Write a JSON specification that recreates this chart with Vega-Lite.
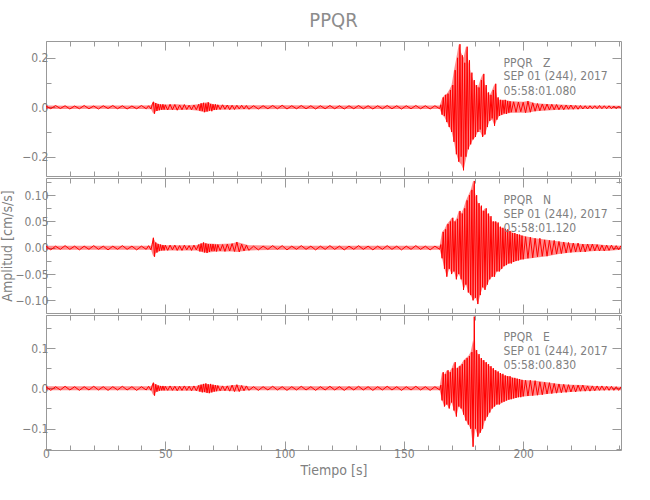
{
"$schema": "https://vega.github.io/schema/vega-lite/v6.json",
"padding": {"left": 0, "top": 10, "right": 5, "bottom": 5},
"spacing": 0,
"datasets": {
"z": [
{"t":0,"v":0.005},{"t":2,"v":-0.006},{"t":4,"v":0.007},{"t":6,"v":-0.005},{"t":8,"v":0.006},{"t":10,"v":-0.007},{"t":12,"v":0.005},{"t":14,"v":-0.006},{"t":16,"v":0.007},{"t":18,"v":-0.006},{"t":20,"v":0.005},{"t":22,"v":-0.007},{"t":24,"v":0.006},{"t":26,"v":-0.005},{"t":28,"v":0.007},{"t":30,"v":-0.006},{"t":32,"v":0.006},{"t":34,"v":-0.007},{"t":36,"v":0.005},{"t":38,"v":-0.006},{"t":40,"v":0.007},{"t":42,"v":-0.006},{"t":43,"v":0.006},{"t":44,"v":-0.007},
{"t":44.5,"v":0.01},{"t":45,"v":0.022},{"t":45.5,"v":-0.026},{"t":46,"v":0.017},{"t":46.5,"v":-0.015},{"t":47,"v":0.013},{"t":47.5,"v":-0.012},{"t":48,"v":0.011},{"t":48.5,"v":-0.01},{"t":49,"v":0.012},{"t":49.5,"v":-0.009},{"t":50,"v":0.01},
{"t":51,"v":-0.011},{"t":52,"v":0.012},{"t":53,"v":-0.01},{"t":54,"v":0.011},{"t":55,"v":-0.012},{"t":56,"v":0.009},{"t":57,"v":-0.01},{"t":58,"v":0.011},{"t":59,"v":-0.009},{"t":60,"v":0.008},{"t":61,"v":-0.01},{"t":62,"v":0.009},{"t":63,"v":-0.01},
{"t":64,"v":0.012},{"t":64.5,"v":-0.014},{"t":65,"v":0.016},{"t":65.5,"v":-0.015},{"t":66,"v":0.018},{"t":66.5,"v":-0.02},{"t":67,"v":0.015},{"t":67.5,"v":-0.017},{"t":68,"v":0.02},{"t":68.5,"v":-0.014},{"t":69,"v":0.013},{"t":69.5,"v":-0.016},{"t":70,"v":0.012},{"t":70.5,"v":-0.011},{"t":71,"v":0.012},{"t":71.5,"v":-0.01},{"t":72,"v":0.01},
{"t":73,"v":-0.009},{"t":74,"v":0.01},{"t":75,"v":-0.008},{"t":76,"v":0.009},{"t":77,"v":-0.01},{"t":78,"v":0.008},{"t":79,"v":-0.009},{"t":80,"v":0.008},{"t":81,"v":-0.007},{"t":82,"v":0.008},{"t":83,"v":-0.007},{"t":84,"v":0.007},{"t":85,"v":-0.008},
{"t":87,"v":0.006},{"t":89,"v":-0.007},{"t":91,"v":0.006},{"t":93,"v":-0.006},{"t":95,"v":0.007},{"t":97,"v":-0.006},{"t":99,"v":0.008},{"t":101,"v":-0.007},{"t":103,"v":0.006},{"t":105,"v":-0.006},{"t":107,"v":0.007},{"t":109,"v":-0.006},{"t":111,"v":0.006},{"t":113,"v":-0.007},{"t":115,"v":0.006},{"t":117,"v":-0.006},{"t":119,"v":0.007},{"t":121,"v":-0.006},{"t":123,"v":0.006},{"t":125,"v":-0.007},{"t":127,"v":0.006},{"t":129,"v":-0.006},{"t":131,"v":0.007},{"t":133,"v":-0.006},{"t":135,"v":0.006},{"t":137,"v":-0.007},{"t":139,"v":0.006},{"t":141,"v":-0.006},{"t":143,"v":0.007},{"t":145,"v":-0.006},{"t":147,"v":0.006},{"t":149,"v":-0.007},{"t":151,"v":0.006},{"t":153,"v":-0.006},{"t":155,"v":0.007},{"t":157,"v":-0.006},{"t":159,"v":0.006},{"t":161,"v":-0.007},{"t":163,"v":0.006},{"t":165,"v":-0.006},
{"t":165.5,"v":0.01},{"t":166,"v":-0.03},{"t":166.5,"v":0.04},{"t":167,"v":-0.035},{"t":167.5,"v":0.05},{"t":168,"v":-0.06},{"t":168.5,"v":0.055},{"t":169,"v":-0.08},{"t":169.5,"v":0.07},{"t":170,"v":-0.1},{"t":170.5,"v":0.09},{"t":171,"v":-0.14},{"t":171.5,"v":0.15},{"t":172,"v":-0.19},{"t":172.5,"v":0.2},{"t":173,"v":-0.22},{"t":173.5,"v":0.255},{"t":174,"v":-0.2},{"t":174.5,"v":0.21},{"t":175,"v":-0.255},{"t":175.5,"v":0.18},{"t":176,"v":-0.2},{"t":176.5,"v":0.245},{"t":177,"v":-0.17},{"t":177.5,"v":0.19},{"t":178,"v":-0.15},{"t":178.5,"v":0.14},{"t":179,"v":-0.13},{"t":179.5,"v":0.11},{"t":180,"v":-0.12},{"t":180.5,"v":0.09},{"t":181,"v":-0.1},{"t":181.5,"v":0.08},{"t":182,"v":-0.09},{"t":182.5,"v":0.11},{"t":183,"v":-0.12},{"t":183.5,"v":0.135},{"t":184,"v":-0.11},{"t":184.5,"v":0.09},{"t":185,"v":-0.08},{"t":185.5,"v":0.06},{"t":186,"v":-0.055},{"t":186.5,"v":0.05},{"t":187,"v":-0.045},{"t":187.5,"v":0.07},{"t":188,"v":-0.075},{"t":188.5,"v":0.095},{"t":189,"v":-0.05},{"t":189.5,"v":0.04},{"t":190,"v":-0.035},{"t":190.5,"v":0.03},{"t":191,"v":-0.03},{"t":191.5,"v":0.028},{"t":192,"v":-0.025},{"t":192.5,"v":0.03},{"t":193,"v":-0.027},{"t":193.5,"v":0.025},{"t":194,"v":-0.022},{"t":194.5,"v":0.024},{"t":195,"v":-0.02},
{"t":196,"v":0.022},{"t":197,"v":-0.02},{"t":198,"v":0.021},{"t":199,"v":-0.018},{"t":200,"v":0.02},{"t":201,"v":-0.022},{"t":202,"v":0.025},{"t":203,"v":-0.02},{"t":204,"v":0.018},{"t":205,"v":-0.016},{"t":206,"v":0.015},{"t":207,"v":-0.014},{"t":208,"v":0.013},{"t":209,"v":-0.012},{"t":210,"v":0.013},{"t":211,"v":-0.011},{"t":212,"v":0.012},{"t":213,"v":-0.01},{"t":214,"v":0.011},{"t":215,"v":-0.01},{"t":216,"v":0.009},{"t":217,"v":-0.01},{"t":218,"v":0.009},{"t":219,"v":-0.008},{"t":220,"v":0.009},{"t":221,"v":-0.008},{"t":222,"v":0.007},{"t":223,"v":-0.008},{"t":224,"v":0.007},{"t":225,"v":-0.007},{"t":226,"v":0.006},{"t":227,"v":-0.007},{"t":228,"v":0.006},{"t":229,"v":-0.006},{"t":230,"v":0.006},{"t":231,"v":-0.006},{"t":232,"v":0.007},{"t":233,"v":-0.006},{"t":234,"v":0.006},{"t":235,"v":-0.006},{"t":236,"v":0.006},{"t":237,"v":-0.006},{"t":238,"v":0.005},{"t":239,"v":-0.006},{"t":240,"v":0.005},{"t":241,"v":-0.005}
],
"n": [
{"t":0,"v":0.003},{"t":2,"v":-0.004},{"t":4,"v":0.003},{"t":6,"v":-0.003},{"t":8,"v":0.004},{"t":10,"v":-0.003},{"t":12,"v":0.003},{"t":14,"v":-0.004},{"t":16,"v":0.003},{"t":18,"v":-0.003},{"t":20,"v":0.004},{"t":22,"v":-0.003},{"t":24,"v":0.003},{"t":26,"v":-0.004},{"t":28,"v":0.003},{"t":30,"v":-0.003},{"t":32,"v":0.004},{"t":34,"v":-0.003},{"t":36,"v":0.003},{"t":38,"v":-0.004},{"t":40,"v":0.003},{"t":42,"v":-0.003},{"t":43,"v":0.004},{"t":44,"v":-0.004},
{"t":44.5,"v":0.006},{"t":45,"v":0.019},{"t":45.5,"v":-0.017},{"t":46,"v":0.01},{"t":46.5,"v":-0.009},{"t":47,"v":0.007},{"t":47.5,"v":-0.006},{"t":48,"v":0.006},{"t":48.5,"v":-0.005},{"t":49,"v":0.005},{"t":49.5,"v":-0.005},{"t":50,"v":0.005},
{"t":51,"v":-0.005},{"t":52,"v":0.005},{"t":53,"v":-0.004},{"t":54,"v":0.005},{"t":55,"v":-0.005},{"t":56,"v":0.004},{"t":57,"v":-0.005},{"t":58,"v":0.005},{"t":59,"v":-0.004},{"t":60,"v":0.004},{"t":61,"v":-0.005},{"t":62,"v":0.005},{"t":63,"v":-0.004},
{"t":64,"v":0.006},{"t":64.5,"v":-0.007},{"t":65,"v":0.008},{"t":65.5,"v":-0.007},{"t":66,"v":0.01},{"t":66.5,"v":-0.009},{"t":67,"v":0.008},{"t":67.5,"v":-0.01},{"t":68,"v":0.007},{"t":68.5,"v":-0.008},{"t":69,"v":0.007},{"t":69.5,"v":-0.006},{"t":70,"v":0.007},{"t":70.5,"v":-0.006},{"t":71,"v":0.006},{"t":71.5,"v":-0.007},{"t":72,"v":0.006},
{"t":73,"v":-0.006},{"t":74,"v":0.006},{"t":75,"v":-0.007},{"t":76,"v":0.007},{"t":77,"v":-0.006},{"t":78,"v":0.008},{"t":79,"v":-0.007},{"t":80,"v":0.011},{"t":81,"v":-0.008},{"t":82,"v":0.007},{"t":83,"v":-0.006},{"t":84,"v":0.005},{"t":85,"v":-0.005},
{"t":87,"v":0.003},{"t":89,"v":-0.004},{"t":91,"v":0.003},{"t":93,"v":-0.003},{"t":95,"v":0.004},{"t":97,"v":-0.003},{"t":99,"v":0.004},{"t":101,"v":-0.004},{"t":103,"v":0.003},{"t":105,"v":-0.003},{"t":107,"v":0.004},{"t":109,"v":-0.003},{"t":111,"v":0.003},{"t":113,"v":-0.004},{"t":115,"v":0.003},{"t":117,"v":-0.003},{"t":119,"v":0.004},{"t":121,"v":-0.003},{"t":123,"v":0.003},{"t":125,"v":-0.004},{"t":127,"v":0.003},{"t":129,"v":-0.003},{"t":131,"v":0.004},{"t":133,"v":-0.003},{"t":135,"v":0.003},{"t":137,"v":-0.004},{"t":139,"v":0.003},{"t":141,"v":-0.003},{"t":143,"v":0.004},{"t":145,"v":-0.003},{"t":147,"v":0.003},{"t":149,"v":-0.004},{"t":151,"v":0.003},{"t":153,"v":-0.003},{"t":155,"v":0.004},{"t":157,"v":-0.003},{"t":159,"v":0.003},{"t":161,"v":-0.004},{"t":163,"v":0.003},{"t":165,"v":-0.003},
{"t":165.5,"v":0.006},{"t":166,"v":-0.02},{"t":166.5,"v":0.03},{"t":167,"v":-0.04},{"t":167.5,"v":0.035},{"t":168,"v":-0.055},{"t":168.5,"v":0.045},{"t":169,"v":-0.04},{"t":169.5,"v":0.05},{"t":170,"v":-0.05},{"t":170.5,"v":0.057},{"t":171,"v":-0.045},{"t":171.5,"v":0.05},{"t":172,"v":-0.06},{"t":172.5,"v":0.055},{"t":173,"v":-0.05},{"t":173.5,"v":0.07},{"t":174,"v":-0.06},{"t":174.5,"v":0.065},{"t":175,"v":-0.08},{"t":175.5,"v":0.075},{"t":176,"v":-0.07},{"t":176.5,"v":0.09},{"t":177,"v":-0.085},{"t":177.5,"v":0.1},{"t":178,"v":-0.09},{"t":178.5,"v":0.11},{"t":179,"v":-0.1},{"t":179.5,"v":0.127},{"t":180,"v":-0.095},{"t":180.5,"v":0.1},{"t":181,"v":-0.107},{"t":181.5,"v":0.085},{"t":182,"v":-0.09},{"t":182.5,"v":0.08},{"t":183,"v":-0.075},{"t":183.5,"v":0.07},{"t":184,"v":-0.08},{"t":184.5,"v":0.075},{"t":185,"v":-0.07},{"t":185.5,"v":0.065},{"t":186,"v":-0.06},{"t":186.5,"v":0.06},{"t":187,"v":-0.055},{"t":187.5,"v":0.05},{"t":188,"v":-0.055},{"t":188.5,"v":0.05},{"t":189,"v":-0.045},{"t":189.5,"v":0.048},{"t":190,"v":-0.045},{"t":190.5,"v":0.04},{"t":191,"v":-0.04},{"t":191.5,"v":0.038},{"t":192,"v":-0.035},{"t":192.5,"v":0.036},{"t":193,"v":-0.033},{"t":193.5,"v":0.035},{"t":194,"v":-0.03},{"t":194.5,"v":0.032},{"t":195,"v":-0.03},{"t":195.5,"v":0.028},{"t":196,"v":-0.027},{"t":196.5,"v":0.028},{"t":197,"v":-0.025},{"t":197.5,"v":0.026},{"t":198,"v":-0.024},{"t":198.5,"v":0.025},{"t":199,"v":-0.022},{"t":199.5,"v":0.023},{"t":200,"v":-0.022},
{"t":201,"v":0.021},{"t":202,"v":-0.02},{"t":203,"v":0.02},{"t":204,"v":-0.019},{"t":205,"v":0.018},{"t":206,"v":-0.017},{"t":207,"v":0.018},{"t":208,"v":-0.016},{"t":209,"v":0.015},{"t":210,"v":-0.016},{"t":211,"v":0.014},{"t":212,"v":-0.013},{"t":213,"v":0.014},{"t":214,"v":-0.012},{"t":215,"v":0.012},{"t":216,"v":-0.011},{"t":217,"v":0.011},{"t":218,"v":-0.01},{"t":219,"v":0.01},{"t":220,"v":-0.009},{"t":221,"v":0.009},{"t":222,"v":-0.008},{"t":223,"v":0.009},{"t":224,"v":-0.008},{"t":225,"v":0.007},{"t":226,"v":-0.008},{"t":227,"v":0.007},{"t":228,"v":-0.006},{"t":229,"v":0.007},{"t":230,"v":-0.006},{"t":231,"v":0.006},{"t":232,"v":-0.006},{"t":233,"v":0.005},{"t":234,"v":-0.006},{"t":235,"v":0.005},{"t":236,"v":-0.005},{"t":237,"v":0.005},{"t":238,"v":-0.004},{"t":239,"v":0.004},{"t":240,"v":-0.004},{"t":241,"v":0.004}
],
"e": [
{"t":0,"v":0.004},{"t":2,"v":-0.005},{"t":4,"v":0.004},{"t":6,"v":-0.004},{"t":8,"v":0.005},{"t":10,"v":-0.004},{"t":12,"v":0.004},{"t":14,"v":-0.005},{"t":16,"v":0.004},{"t":18,"v":-0.004},{"t":20,"v":0.005},{"t":22,"v":-0.004},{"t":24,"v":0.004},{"t":26,"v":-0.005},{"t":28,"v":0.004},{"t":30,"v":-0.004},{"t":32,"v":0.005},{"t":34,"v":-0.004},{"t":36,"v":0.004},{"t":38,"v":-0.005},{"t":40,"v":0.004},{"t":42,"v":-0.004},{"t":43,"v":0.005},{"t":44,"v":-0.005},
{"t":44.5,"v":0.006},{"t":45,"v":0.014},{"t":45.5,"v":-0.018},{"t":46,"v":0.01},{"t":46.5,"v":-0.008},{"t":47,"v":0.007},{"t":47.5,"v":-0.006},{"t":48,"v":0.006},{"t":48.5,"v":-0.005},{"t":49,"v":0.006},{"t":49.5,"v":-0.005},{"t":50,"v":0.005},
{"t":51,"v":-0.005},{"t":52,"v":0.006},{"t":53,"v":-0.005},{"t":54,"v":0.005},{"t":55,"v":-0.006},{"t":56,"v":0.005},{"t":57,"v":-0.005},{"t":58,"v":0.006},{"t":59,"v":-0.005},{"t":60,"v":0.005},{"t":61,"v":-0.006},{"t":62,"v":0.006},{"t":63,"v":-0.006},
{"t":64,"v":0.007},{"t":64.5,"v":-0.008},{"t":65,"v":0.009},{"t":65.5,"v":-0.01},{"t":66,"v":0.011},{"t":66.5,"v":-0.009},{"t":67,"v":0.012},{"t":67.5,"v":-0.011},{"t":68,"v":0.01},{"t":68.5,"v":-0.012},{"t":69,"v":0.011},{"t":69.5,"v":-0.01},{"t":70,"v":0.009},{"t":70.5,"v":-0.008},{"t":71,"v":0.008},{"t":71.5,"v":-0.007},{"t":72,"v":0.007},
{"t":73,"v":-0.006},{"t":74,"v":0.006},{"t":75,"v":-0.006},{"t":76,"v":0.006},{"t":77,"v":-0.007},{"t":78,"v":0.008},{"t":79,"v":-0.008},{"t":80,"v":0.009},{"t":81,"v":-0.008},{"t":82,"v":0.007},{"t":83,"v":-0.006},{"t":84,"v":0.006},{"t":85,"v":-0.005},
{"t":87,"v":0.004},{"t":89,"v":-0.005},{"t":91,"v":0.004},{"t":93,"v":-0.004},{"t":95,"v":0.005},{"t":97,"v":-0.004},{"t":99,"v":0.004},{"t":101,"v":-0.005},{"t":103,"v":0.004},{"t":105,"v":-0.004},{"t":107,"v":0.005},{"t":109,"v":-0.004},{"t":111,"v":0.004},{"t":113,"v":-0.005},{"t":115,"v":0.004},{"t":117,"v":-0.004},{"t":119,"v":0.005},{"t":121,"v":-0.004},{"t":123,"v":0.004},{"t":125,"v":-0.005},{"t":127,"v":0.004},{"t":129,"v":-0.004},{"t":131,"v":0.005},{"t":133,"v":-0.004},{"t":135,"v":0.004},{"t":137,"v":-0.005},{"t":139,"v":0.004},{"t":141,"v":-0.004},{"t":143,"v":0.005},{"t":145,"v":-0.004},{"t":147,"v":0.004},{"t":149,"v":-0.005},{"t":151,"v":0.004},{"t":153,"v":-0.004},{"t":155,"v":0.005},{"t":157,"v":-0.004},{"t":159,"v":0.004},{"t":161,"v":-0.005},{"t":163,"v":0.004},{"t":165,"v":-0.004},
{"t":165.5,"v":0.008},{"t":166,"v":-0.03},{"t":166.5,"v":0.04},{"t":167,"v":-0.045},{"t":167.5,"v":0.035},{"t":168,"v":-0.04},{"t":168.5,"v":0.045},{"t":169,"v":-0.05},{"t":169.5,"v":0.04},{"t":170,"v":-0.035},{"t":170.5,"v":0.05},{"t":171,"v":-0.055},{"t":171.5,"v":0.065},{"t":172,"v":-0.07},{"t":172.5,"v":0.05},{"t":173,"v":-0.045},{"t":173.5,"v":0.055},{"t":174,"v":-0.05},{"t":174.5,"v":0.06},{"t":175,"v":-0.065},{"t":175.5,"v":0.07},{"t":176,"v":-0.08},{"t":176.5,"v":0.075},{"t":177,"v":-0.09},{"t":177.5,"v":0.08},{"t":178,"v":-0.1},{"t":178.5,"v":0.09},{"t":179,"v":-0.145},{"t":179.5,"v":0.178},{"t":180,"v":-0.1},{"t":180.5,"v":0.095},{"t":181,"v":-0.12},{"t":181.5,"v":0.085},{"t":182,"v":-0.11},{"t":182.5,"v":0.075},{"t":183,"v":-0.1},{"t":183.5,"v":0.07},{"t":184,"v":-0.08},{"t":184.5,"v":0.065},{"t":185,"v":-0.07},{"t":185.5,"v":0.06},{"t":186,"v":-0.06},{"t":186.5,"v":0.055},{"t":187,"v":-0.05},{"t":187.5,"v":0.05},{"t":188,"v":-0.045},{"t":188.5,"v":0.045},{"t":189,"v":-0.04},{"t":189.5,"v":0.042},{"t":190,"v":-0.04},{"t":190.5,"v":0.038},{"t":191,"v":-0.035},{"t":191.5,"v":0.036},{"t":192,"v":-0.033},{"t":192.5,"v":0.032},{"t":193,"v":-0.03},{"t":193.5,"v":0.03},{"t":194,"v":-0.028},{"t":194.5,"v":0.03},{"t":195,"v":-0.027},{"t":195.5,"v":0.026},{"t":196,"v":-0.025},{"t":196.5,"v":0.026},{"t":197,"v":-0.024},{"t":197.5,"v":0.024},{"t":198,"v":-0.022},{"t":198.5,"v":0.023},{"t":199,"v":-0.022},{"t":199.5,"v":0.021},{"t":200,"v":-0.02},
{"t":201,"v":0.02},{"t":202,"v":-0.019},{"t":203,"v":0.02},{"t":204,"v":-0.018},{"t":205,"v":0.019},{"t":206,"v":-0.017},{"t":207,"v":0.016},{"t":208,"v":-0.016},{"t":209,"v":0.015},{"t":210,"v":-0.014},{"t":211,"v":0.014},{"t":212,"v":-0.013},{"t":213,"v":0.012},{"t":214,"v":-0.012},{"t":215,"v":0.011},{"t":216,"v":-0.011},{"t":217,"v":0.01},{"t":218,"v":-0.01},{"t":219,"v":0.009},{"t":220,"v":-0.009},{"t":221,"v":0.008},{"t":222,"v":-0.009},{"t":223,"v":0.008},{"t":224,"v":-0.007},{"t":225,"v":0.008},{"t":226,"v":-0.007},{"t":227,"v":0.006},{"t":228,"v":-0.007},{"t":229,"v":0.006},{"t":230,"v":-0.006},{"t":231,"v":0.006},{"t":232,"v":-0.005},{"t":233,"v":0.006},{"t":234,"v":-0.005},{"t":235,"v":0.005},{"t":236,"v":-0.005},{"t":237,"v":0.005},{"t":238,"v":-0.005},{"t":239,"v":0.004},{"t":240,"v":-0.005},{"t":241,"v":0.004}
],
"ez": [
{"t":0,"lo":-0.007,"hi":0.007},{"t":10,"lo":-0.007,"hi":0.006},{"t":20,"lo":-0.006,"hi":0.007},{"t":30,"lo":-0.007,"hi":0.007},{"t":40,"lo":-0.007,"hi":0.007},{"t":44,"lo":-0.008,"hi":0.008},{"t":45,"lo":-0.026,"hi":0.022},{"t":46,"lo":-0.016,"hi":0.017},{"t":48,"lo":-0.011,"hi":0.012},{"t":50,"lo":-0.011,"hi":0.011},{"t":55,"lo":-0.011,"hi":0.012},{"t":60,"lo":-0.01,"hi":0.009},{"t":64,"lo":-0.014,"hi":0.012},{"t":66,"lo":-0.02,"hi":0.018},{"t":68,"lo":-0.017,"hi":0.02},{"t":70,"lo":-0.012,"hi":0.012},{"t":72,"lo":-0.01,"hi":0.01},{"t":80,"lo":-0.009,"hi":0.008},{"t":85,"lo":-0.008,"hi":0.008},{"t":100,"lo":-0.007,"hi":0.008},{"t":120,"lo":-0.007,"hi":0.007},{"t":140,"lo":-0.007,"hi":0.007},{"t":165,"lo":-0.007,"hi":0.007},
{"t":166,"lo":-0.03,"hi":0.035},{"t":167,"lo":-0.04,"hi":0.05},{"t":168,"lo":-0.06,"hi":0.055},{"t":169,"lo":-0.08,"hi":0.07},{"t":170,"lo":-0.1,"hi":0.09},{"t":171,"lo":-0.14,"hi":0.15},{"t":172,"lo":-0.19,"hi":0.2},{"t":173,"lo":-0.22,"hi":0.255},{"t":174,"lo":-0.23,"hi":0.22},{"t":175,"lo":-0.255,"hi":0.2},{"t":176,"lo":-0.21,"hi":0.245},{"t":177,"lo":-0.17,"hi":0.19},{"t":178,"lo":-0.15,"hi":0.14},{"t":179,"lo":-0.13,"hi":0.11},{"t":180,"lo":-0.12,"hi":0.09},{"t":181,"lo":-0.1,"hi":0.08},{"t":182,"lo":-0.1,"hi":0.11},{"t":183,"lo":-0.12,"hi":0.135},{"t":184,"lo":-0.11,"hi":0.09},{"t":185,"lo":-0.08,"hi":0.06},{"t":186,"lo":-0.055,"hi":0.05},{"t":187,"lo":-0.05,"hi":0.07},{"t":188,"lo":-0.075,"hi":0.095},{"t":189,"lo":-0.05,"hi":0.04},{"t":190,"lo":-0.035,"hi":0.03},{"t":192,"lo":-0.028,"hi":0.03},{"t":195,"lo":-0.022,"hi":0.024},{"t":200,"lo":-0.022,"hi":0.022},{"t":202,"lo":-0.022,"hi":0.025},{"t":205,"lo":-0.016,"hi":0.016},{"t":210,"lo":-0.013,"hi":0.013},{"t":215,"lo":-0.01,"hi":0.011},{"t":220,"lo":-0.009,"hi":0.009},{"t":225,"lo":-0.007,"hi":0.007},{"t":230,"lo":-0.006,"hi":0.007},{"t":241,"lo":-0.006,"hi":0.006}
],
"en": [
{"t":0,"lo":-0.004,"hi":0.004},{"t":20,"lo":-0.004,"hi":0.004},{"t":44,"lo":-0.004,"hi":0.004},{"t":45,"lo":-0.017,"hi":0.019},{"t":46,"lo":-0.01,"hi":0.01},{"t":48,"lo":-0.006,"hi":0.006},{"t":50,"lo":-0.005,"hi":0.005},{"t":63,"lo":-0.005,"hi":0.005},{"t":66,"lo":-0.009,"hi":0.01},{"t":68,"lo":-0.009,"hi":0.008},{"t":72,"lo":-0.007,"hi":0.007},{"t":78,"lo":-0.007,"hi":0.008},{"t":80,"lo":-0.008,"hi":0.011},{"t":85,"lo":-0.005,"hi":0.005},{"t":100,"lo":-0.004,"hi":0.004},{"t":130,"lo":-0.004,"hi":0.004},{"t":165,"lo":-0.004,"hi":0.004},
{"t":166,"lo":-0.02,"hi":0.03},{"t":167,"lo":-0.04,"hi":0.035},{"t":168,"lo":-0.055,"hi":0.045},{"t":169,"lo":-0.04,"hi":0.05},{"t":170,"lo":-0.05,"hi":0.057},{"t":171,"lo":-0.045,"hi":0.05},{"t":172,"lo":-0.06,"hi":0.055},{"t":173,"lo":-0.05,"hi":0.07},{"t":174,"lo":-0.06,"hi":0.065},{"t":175,"lo":-0.08,"hi":0.075},{"t":176,"lo":-0.07,"hi":0.09},{"t":177,"lo":-0.085,"hi":0.1},{"t":178,"lo":-0.09,"hi":0.11},{"t":179,"lo":-0.1,"hi":0.127},{"t":180,"lo":-0.095,"hi":0.1},{"t":181,"lo":-0.107,"hi":0.085},{"t":182,"lo":-0.09,"hi":0.08},{"t":183,"lo":-0.075,"hi":0.07},{"t":184,"lo":-0.08,"hi":0.075},{"t":185,"lo":-0.07,"hi":0.065},{"t":186,"lo":-0.06,"hi":0.06},{"t":187,"lo":-0.055,"hi":0.05},{"t":188,"lo":-0.055,"hi":0.05},{"t":189,"lo":-0.045,"hi":0.048},{"t":190,"lo":-0.045,"hi":0.04},{"t":192,"lo":-0.035,"hi":0.036},{"t":194,"lo":-0.03,"hi":0.032},{"t":196,"lo":-0.027,"hi":0.028},{"t":198,"lo":-0.024,"hi":0.025},{"t":200,"lo":-0.022,"hi":0.023},{"t":205,"lo":-0.019,"hi":0.018},{"t":210,"lo":-0.016,"hi":0.015},{"t":215,"lo":-0.012,"hi":0.012},{"t":220,"lo":-0.009,"hi":0.009},{"t":225,"lo":-0.008,"hi":0.007},{"t":230,"lo":-0.006,"hi":0.007},{"t":235,"lo":-0.006,"hi":0.005},{"t":241,"lo":-0.004,"hi":0.004}
],
"ee": [
{"t":0,"lo":-0.005,"hi":0.005},{"t":20,"lo":-0.005,"hi":0.005},{"t":44,"lo":-0.005,"hi":0.005},{"t":45,"lo":-0.018,"hi":0.014},{"t":46,"lo":-0.01,"hi":0.01},{"t":48,"lo":-0.006,"hi":0.006},{"t":50,"lo":-0.006,"hi":0.006},{"t":63,"lo":-0.006,"hi":0.006},{"t":64,"lo":-0.008,"hi":0.008},{"t":66,"lo":-0.01,"hi":0.011},{"t":67,"lo":-0.011,"hi":0.012},{"t":68,"lo":-0.012,"hi":0.01},{"t":70,"lo":-0.009,"hi":0.009},{"t":72,"lo":-0.007,"hi":0.007},{"t":75,"lo":-0.006,"hi":0.006},{"t":80,"lo":-0.008,"hi":0.009},{"t":85,"lo":-0.005,"hi":0.005},{"t":120,"lo":-0.005,"hi":0.005},{"t":165,"lo":-0.005,"hi":0.005},
{"t":166,"lo":-0.03,"hi":0.04},{"t":167,"lo":-0.045,"hi":0.035},{"t":168,"lo":-0.04,"hi":0.045},{"t":169,"lo":-0.05,"hi":0.04},{"t":170,"lo":-0.035,"hi":0.05},{"t":171,"lo":-0.055,"hi":0.065},{"t":172,"lo":-0.07,"hi":0.05},{"t":173,"lo":-0.045,"hi":0.055},{"t":174,"lo":-0.05,"hi":0.06},{"t":175,"lo":-0.065,"hi":0.07},{"t":176,"lo":-0.08,"hi":0.075},{"t":177,"lo":-0.09,"hi":0.08},{"t":178,"lo":-0.1,"hi":0.09},{"t":179,"lo":-0.145,"hi":0.12},{"t":180,"lo":-0.1,"hi":0.095},{"t":181,"lo":-0.12,"hi":0.085},{"t":182,"lo":-0.11,"hi":0.075},{"t":183,"lo":-0.1,"hi":0.07},{"t":184,"lo":-0.08,"hi":0.065},{"t":185,"lo":-0.07,"hi":0.06},{"t":186,"lo":-0.06,"hi":0.055},{"t":187,"lo":-0.05,"hi":0.05},{"t":188,"lo":-0.045,"hi":0.045},{"t":189,"lo":-0.04,"hi":0.042},{"t":190,"lo":-0.04,"hi":0.038},{"t":192,"lo":-0.033,"hi":0.032},{"t":194,"lo":-0.028,"hi":0.03},{"t":196,"lo":-0.025,"hi":0.026},{"t":198,"lo":-0.022,"hi":0.023},{"t":200,"lo":-0.02,"hi":0.021},{"t":205,"lo":-0.018,"hi":0.019},{"t":210,"lo":-0.014,"hi":0.015},{"t":215,"lo":-0.011,"hi":0.011},{"t":220,"lo":-0.009,"hi":0.009},{"t":225,"lo":-0.007,"hi":0.008},{"t":230,"lo":-0.006,"hi":0.006},{"t":235,"lo":-0.005,"hi":0.005},{"t":241,"lo":-0.005,"hi":0.004}
],
"lz": [{"t":191.8,"v":0.181,"s":"PPQR\u00a0\u00a0\u00a0Z"},{"t":191.8,"v":0.126,"s":"SEP 01 (244), 2017"},{"t":191.8,"v":0.067,"s":"05:58:01.080"}],
"ln": [{"t":191.8,"v":0.091,"s":"PPQR\u00a0\u00a0\u00a0N"},{"t":191.8,"v":0.064,"s":"SEP 01 (244), 2017"},{"t":191.8,"v":0.038,"s":"05:58:01.120"}],
"le": [{"t":191.8,"v":0.127,"s":"PPQR\u00a0\u00a0\u00a0E"},{"t":191.8,"v":0.093,"s":"SEP 01 (244), 2017"},{"t":191.8,"v":0.058,"s":"05:58:00.830"}]
},
"vconcat": [
{
"width": 575, "height": 135,
"title": {"text": "PPQR", "fontSize": 20, "fontWeight": "normal", "color": "#8c8c8c", "anchor": "middle", "offset": 10},
"layer": [
{"data": {"name": "ez"}, "mark": {"type": "area", "color": "#ff0000", "opacity": 0.45, "clip": true},
 "encoding": {
  "x": {"field": "t", "type": "quantitative", "scale": {"domain": [0, 241], "nice": false, "zero": false}, "axis": null},
  "y": {"field": "lo", "type": "quantitative", "scale": {"domain": [-0.278, 0.268], "nice": false, "zero": false}, "axis": null},
  "y2": {"field": "hi"}
 }},
{"data": {"name": "z"}, "mark": {"type": "line", "color": "#ff0000", "strokeWidth": 1, "clip": true},
 "encoding": {
  "x": {"field": "t", "type": "quantitative", "scale": {"domain": [0, 241], "nice": false, "zero": false},
        "axis": {"orient": "bottom", "title": null, "labels": false, "values": [0,10,20,30,40,50,60,70,80,90,100,110,120,130,140,150,160,170,180,190,200,210,220,230,240], "tickSize": {"condition": {"test": "datum.value % 50 === 0", "value": -9}, "value": -5}}},
  "y": {"field": "v", "type": "quantitative", "scale": {"domain": [-0.278, 0.268], "nice": false, "zero": false},
        "axis": {"orient": "left", "title": null, "format": ".1f", "values": [-0.2,-0.1,0,0.1,0.2], "labelExpr": "abs(round(datum.value*10)%2)===0 ? datum.label : ''", "tickSize": {"condition": {"test": "abs(round(datum.value*10)%2)===0", "value": -9}, "value": -5}}}
 }},
{"data": {"name": "lz"}, "mark": {"type": "text", "align": "left", "baseline": "middle", "fontSize": 12, "color": "#808080"},
 "encoding": {
  "x": {"field": "t", "type": "quantitative", "scale": {"domain": [0, 241], "nice": false, "zero": false},
        "axis": {"orient": "top", "title": null, "labels": false, "values": [0,10,20,30,40,50,60,70,80,90,100,110,120,130,140,150,160,170,180,190,200,210,220,230,240], "tickSize": {"condition": {"test": "datum.value % 50 === 0", "value": -9}, "value": -5}}},
  "y": {"field": "v", "type": "quantitative", "scale": {"domain": [-0.278, 0.268], "nice": false, "zero": false},
        "axis": {"orient": "right", "title": null, "labels": false, "values": [-0.2,-0.1,0,0.1,0.2], "tickSize": {"condition": {"test": "abs(round(datum.value*10)%2)===0", "value": -9}, "value": -5}}},
  "text": {"field": "s"}
 }}
],
"resolve": {"axis": {"x": "independent", "y": "independent"}}
},
{
"width": 575, "height": 135,
"layer": [
{"data": {"name": "en"}, "mark": {"type": "area", "color": "#ff0000", "opacity": 0.45, "clip": true},
 "encoding": {
  "x": {"field": "t", "type": "quantitative", "scale": {"domain": [0, 241], "nice": false, "zero": false}, "axis": null},
  "y": {"field": "lo", "type": "quantitative", "scale": {"domain": [-0.124, 0.1326], "nice": false, "zero": false}, "axis": null},
  "y2": {"field": "hi"}
 }},
{"data": {"name": "n"}, "mark": {"type": "line", "color": "#ff0000", "strokeWidth": 1, "clip": true},
 "encoding": {
  "x": {"field": "t", "type": "quantitative", "scale": {"domain": [0, 241], "nice": false, "zero": false},
        "axis": {"orient": "bottom", "title": null, "labels": false, "values": [0,10,20,30,40,50,60,70,80,90,100,110,120,130,140,150,160,170,180,190,200,210,220,230,240], "tickSize": {"condition": {"test": "datum.value % 50 === 0", "value": -9}, "value": -5}}},
  "y": {"field": "v", "type": "quantitative", "scale": {"domain": [-0.124, 0.1326], "nice": false, "zero": false},
        "axis": {"orient": "left", "title": "Amplitud [cm/s/s]", "format": ".2f", "values": [-0.1,-0.075,-0.05,-0.025,0,0.025,0.05,0.075,0.1,0.125], "labelExpr": "abs(round(datum.value*40)%2)===0 ? datum.label : ''", "tickSize": {"condition": {"test": "abs(round(datum.value*40)%2)===0", "value": -9}, "value": -5}}}
 }},
{"data": {"name": "ln"}, "mark": {"type": "text", "align": "left", "baseline": "middle", "fontSize": 12, "color": "#808080"},
 "encoding": {
  "x": {"field": "t", "type": "quantitative", "scale": {"domain": [0, 241], "nice": false, "zero": false},
        "axis": {"orient": "top", "title": null, "labels": false, "values": [0,10,20,30,40,50,60,70,80,90,100,110,120,130,140,150,160,170,180,190,200,210,220,230,240], "tickSize": {"condition": {"test": "datum.value % 50 === 0", "value": -9}, "value": -5}}},
  "y": {"field": "v", "type": "quantitative", "scale": {"domain": [-0.124, 0.1326], "nice": false, "zero": false},
        "axis": {"orient": "right", "title": null, "labels": false, "values": [-0.1,-0.075,-0.05,-0.025,0,0.025,0.05,0.075,0.1,0.125], "tickSize": {"condition": {"test": "abs(round(datum.value*40)%2)===0", "value": -9}, "value": -5}}},
  "text": {"field": "s"}
 }}
],
"resolve": {"axis": {"x": "independent", "y": "independent"}}
},
{
"width": 575, "height": 135,
"layer": [
{"data": {"name": "ee"}, "mark": {"type": "area", "color": "#ff0000", "opacity": 0.45, "clip": true},
 "encoding": {
  "x": {"field": "t", "type": "quantitative", "scale": {"domain": [0, 241], "nice": false, "zero": false}, "axis": null},
  "y": {"field": "lo", "type": "quantitative", "scale": {"domain": [-0.153, 0.182], "nice": false, "zero": false}, "axis": null},
  "y2": {"field": "hi"}
 }},
{"data": {"name": "e"}, "mark": {"type": "line", "color": "#ff0000", "strokeWidth": 1, "clip": true},
 "encoding": {
  "x": {"field": "t", "type": "quantitative", "scale": {"domain": [0, 241], "nice": false, "zero": false},
        "axis": {"orient": "bottom", "title": "Tiempo [s]", "labelFlush": false, "labelOverlap": false, "values": [0,10,20,30,40,50,60,70,80,90,100,110,120,130,140,150,160,170,180,190,200,210,220,230,240], "labelExpr": "datum.value % 50 === 0 ? datum.label : ''", "tickSize": {"condition": {"test": "datum.value % 50 === 0", "value": -9}, "value": -5}}},
  "y": {"field": "v", "type": "quantitative", "scale": {"domain": [-0.153, 0.182], "nice": false, "zero": false},
        "axis": {"orient": "left", "title": null, "format": ".1f", "values": [-0.15,-0.1,-0.05,0,0.05,0.1,0.15], "labelExpr": "abs(round(datum.value*20)%2)===0 ? datum.label : ''", "tickSize": {"condition": {"test": "abs(round(datum.value*20)%2)===0", "value": -9}, "value": -5}}}
 }},
{"data": {"name": "le"}, "mark": {"type": "text", "align": "left", "baseline": "middle", "fontSize": 12, "color": "#808080"},
 "encoding": {
  "x": {"field": "t", "type": "quantitative", "scale": {"domain": [0, 241], "nice": false, "zero": false},
        "axis": {"orient": "top", "title": null, "labels": false, "values": [0,10,20,30,40,50,60,70,80,90,100,110,120,130,140,150,160,170,180,190,200,210,220,230,240], "tickSize": {"condition": {"test": "datum.value % 50 === 0", "value": -9}, "value": -5}}},
  "y": {"field": "v", "type": "quantitative", "scale": {"domain": [-0.153, 0.182], "nice": false, "zero": false},
        "axis": {"orient": "right", "title": null, "labels": false, "values": [-0.15,-0.1,-0.05,0,0.05,0.1,0.15], "tickSize": {"condition": {"test": "abs(round(datum.value*20)%2)===0", "value": -9}, "value": -5}}},
  "text": {"field": "s"}
 }}
],
"resolve": {"axis": {"x": "independent", "y": "independent"}}
}
],
"config": {
 "font": "Liberation Sans Narrow, DejaVu Sans Condensed, Liberation Sans, sans-serif",
 "view": {"stroke": "#999999", "strokeWidth": 1},
 "axis": {"domain": false, "grid": false, "tickColor": "#999999", "labelColor": "#808080", "labelFontSize": 12, "labelPadding": 7, "titleColor": "#808080", "titleFontWeight": "normal", "titleFontSize": 14, "titlePadding": 0},
 "text": {"font": "Liberation Sans Narrow, DejaVu Sans Condensed, Liberation Sans, sans-serif"}
}
}
